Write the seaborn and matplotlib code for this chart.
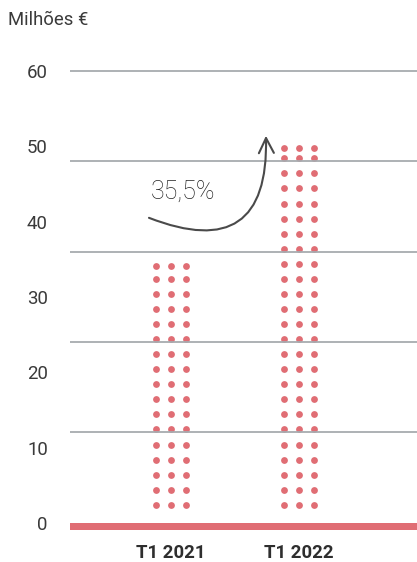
import numpy as np
import pandas as pd
import matplotlib
matplotlib.use("Agg")
import matplotlib.pyplot as plt
import seaborn as sns

# Quarterly values (million €) and labels
categories = ["T1 2021", "T1 2022"]
values = [34.6, 50.25]
growth_label = "35,5%"
unit_label = "Milhões €"
y_tick_values = [0, 10, 20, 30, 40, 50, 60]
grid_values = [12, 24, 36, 48, 60]

DOT = "#e06d74"
GRID = "#a7abaf"
TEXT = "#2e2e2e"

sns.set_theme(style="white")
plt.rcParams["font.family"] = ["Roboto", "DejaVu Sans"]

# Each bar is drawn as a column of dots: 3 dots per row, one row per 2 units,
# with a last row placed at the top of the bar.
step, base, r = 2.0, 2.4, 0.45
col_offsets = [-0.117, 0.0, 0.117]
rows = []
for i, (cat, v) in enumerate(zip(categories, values)):
    top = v - r
    ys = list(np.arange(base, top + 1e-9, step))
    if top - ys[-1] > 0.3:
        ys.append(top)
    for y in ys:
        for dx in col_offsets:
            rows.append({"x": i + dx, "y": y, "cat": cat})
dots = pd.DataFrame(rows)

fig = plt.figure(figsize=(4.17, 5.62), dpi=100)
ax = fig.add_axes([70 / 417, 32 / 562, 347 / 417, 462.8 / 562])

sns.scatterplot(data=dots, x="x", y="y", color=DOT, s=24, linewidth=0,
                legend=False, ax=ax, zorder=2)

for g in grid_values:
    ax.axhline(g, color=GRID, lw=1.3, zorder=3)
ax.axhspan(-0.95, 0, color=DOT, lw=0, zorder=3)

ax.set_xlim(-0.789, 1.922)
ax.set_ylim(-0.95, 60.5)

ax.set_xticks(range(len(categories)))
ax.set_xticklabels(categories, fontsize=13.4, fontweight="bold", color=TEXT)
ax.set_yticks(y_tick_values)
ax.set_yticklabels([str(v) for v in y_tick_values], fontsize=13.4,
                   fontweight="normal", color="#3a3a3a")
ax.tick_params(axis="y", length=0, pad=16)
ax.tick_params(axis="x", length=0, pad=10)
ax.set_xlabel("")
ax.set_ylabel("")
for s in ax.spines.values():
    s.set_visible(False)
ax.grid(False)

# Growth annotation with curved arrow
ax.annotate("", xy=(0.742, 51.4), xytext=(-0.172, 40.5),
            arrowprops=dict(arrowstyle="->,head_length=0.9,head_width=0.45",
                            connectionstyle="arc3,rad=0.75",
                            color="#4a4a4a", lw=1.5,
                            shrinkA=0, shrinkB=0),
            zorder=4)
ax.text(-0.156, 43.9, growth_label, fontsize=18, fontweight="light",
        color="#222222", ha="left", va="center")

fig.text(8 / 417, 1 - 20 / 562, unit_label, fontsize=13.3,
         fontweight="normal", color="#3a3a3a", ha="left", va="center")

fig.savefig("out.png", dpi=100)
